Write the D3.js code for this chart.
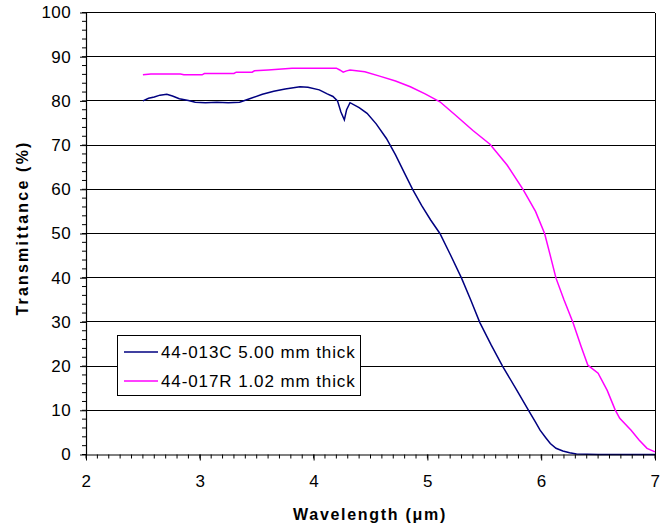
<!DOCTYPE html>
<html>
<head>
<meta charset="utf-8">
<script src="https://cdn.jsdelivr.net/npm/d3@7"></script>
<style>
  body { margin: 0; background: #fff; }
  text { font-family: Arial, "Liberation Sans", sans-serif; fill: #000; }
</style>
</head>
<body>
<div id="chart"></div>
<script>
// values
var navyWl = [2.5, 2.55, 2.6, 2.65, 2.71, 2.76, 2.82, 2.9, 2.96, 3.05, 3.15, 3.25, 3.35, 3.45, 3.55, 3.65, 3.75, 3.88, 3.95, 4.05, 4.12, 4.17, 4.21, 4.24, 4.27, 4.29, 4.32, 4.4, 4.47, 4.55, 4.64, 4.72, 4.8, 4.87, 4.95, 5.03, 5.11, 5.2, 5.3, 5.38, 5.46, 5.56, 5.66, 5.78, 5.89, 5.95, 5.99, 6.04, 6.08, 6.13, 6.19, 6.25, 6.31, 6.5, 7.0];
var navyT = [80.0, 80.6, 80.9, 81.3, 81.5, 81.1, 80.5, 80.1, 79.7, 79.6, 79.7, 79.6, 79.7, 80.6, 81.5, 82.2, 82.7, 83.2, 83.1, 82.5, 81.6, 81.0, 80.0, 77.5, 75.7, 78.0, 79.6, 78.5, 77.2, 74.8, 71.5, 67.8, 63.6, 60.0, 56.3, 53.0, 50.0, 45.3, 39.9, 35.0, 29.9, 24.8, 20.0, 14.8, 9.9, 7.3, 5.5, 3.8, 2.5, 1.4, 0.8, 0.4, 0.1, 0.0, 0.0];

var pinkWl = [2.5, 2.57, 2.83, 2.86, 3.02, 3.04, 3.3, 3.32, 3.46, 3.48, 3.6, 3.81, 4.2, 4.23, 4.26, 4.29, 4.32, 4.45, 4.58, 4.72, 4.85, 4.98, 5.11, 5.25, 5.4, 5.55, 5.7, 5.84, 5.95, 6.03, 6.08, 6.13, 6.2, 6.28, 6.35, 6.41, 6.5, 6.58, 6.65, 6.69, 6.79, 6.86, 6.93, 7.0];
var pinkT = [85.9, 86.1, 86.1, 85.9, 85.9, 86.2, 86.2, 86.5, 86.5, 86.8, 87.0, 87.4, 87.4, 87.0, 86.5, 86.8, 87.0, 86.6, 85.6, 84.5, 83.2, 81.6, 79.8, 76.7, 73.3, 70.2, 65.5, 60.0, 55.0, 50.0, 45.0, 39.9, 35.0, 29.8, 24.5, 20.2, 18.4, 14.5, 10.1, 8.2, 5.5, 3.3, 1.4, 0.6];

var seriesNames = ["44-013C 5.00 mm thick", "44-017R 1.02 mm thick"];
var seriesColors = ["#000080", "#ff00ff"];
var xTicks = [2, 3, 4, 5, 6, 7];
var yTicks = [0, 10, 20, 30, 40, 50, 60, 70, 80, 90, 100];

const W = 661, H = 529;
const svg = d3.select("#chart").append("svg")
  .attr("width", W).attr("height", H);

const x = d3.scaleLinear().domain([2, 7]).range([86, 655]);
const y = d3.scaleLinear().domain([0, 100]).range([454.5, 12.5]);

// gridlines
svg.append("g")
  .selectAll("line")
  .data(yTicks.filter(d => d > 0))
  .join("line")
    .attr("x1", x(2)).attr("x2", x(7))
    .attr("y1", d => y(d)).attr("y2", d => y(d))
    .attr("stroke", "#000").attr("stroke-width", 1)
    .attr("shape-rendering", "crispEdges");

// right border
svg.append("line")
  .attr("x1", x(7)).attr("x2", x(7)).attr("y1", y(100)).attr("y2", y(0))
  .attr("stroke", "#000").attr("shape-rendering", "crispEdges");

// series lines
const line = d3.line().x(d => x(d[0])).y(d => y(d[1]));
const series = [d3.zip(navyWl, navyT), d3.zip(pinkWl, pinkT)];
svg.append("g")
  .selectAll("path")
  .data(series)
  .join("path")
    .attr("d", line)
    .attr("fill", "none")
    .attr("stroke", (d, i) => seriesColors[i])
    .attr("stroke-width", 1.5);

// y axis
const yAxis = svg.append("g")
  .attr("transform", `translate(${x(2)},0)`)
  .call(d3.axisLeft(y).tickValues(yTicks).tickFormat(d3.format("d"))
    .tickSize(6).tickPadding(9).tickSizeOuter(0));
yAxis.append("g").selectAll("line")
  .data(d3.range(0, 101, 2))
  .join("line")
    .attr("x1", -4).attr("x2", 0)
    .attr("y1", d => y(d)).attr("y2", d => y(d))
    .attr("stroke", "#000");

// x axis
const xAxis = svg.append("g")
  .attr("transform", `translate(0,${y(0)})`)
  .call(d3.axisBottom(x).tickValues(xTicks).tickFormat(d3.format("d"))
    .tickSize(6).tickPadding(14).tickSizeOuter(0));
xAxis.append("g").selectAll("line")
  .data(d3.range(20, 71).map(d => d / 10))
  .join("line")
    .attr("x1", d => x(d)).attr("x2", d => x(d))
    .attr("y1", 0).attr("y2", 4)
    .attr("stroke", "#000");

svg.selectAll(".domain").attr("stroke", "#000").attr("stroke-width", 1.2);
svg.selectAll(".tick line").attr("stroke", "#000");
svg.selectAll(".tick text")
  .style("font-family", "Arial, 'Liberation Sans', sans-serif")
  .style("font-size", "17px")
  .style("letter-spacing", "0.4px");

// axis titles
svg.append("text")
  .attr("x", 370).attr("y", 520)
  .attr("text-anchor", "middle")
  .style("font-size", "16px").style("font-weight", "bold")
  .style("letter-spacing", "1.7px")
  .text("Wavelength (μm)");

svg.append("text")
  .attr("transform", "translate(28,228) rotate(-90)")
  .attr("text-anchor", "middle")
  .style("font-size", "16px").style("font-weight", "bold")
  .style("letter-spacing", "2.2px")
  .text("Transmittance (%)");

// legend
const legend = svg.append("g");
legend.append("rect")
  .attr("x", 117.5).attr("y", 335.5).attr("width", 243).attr("height", 60)
  .attr("fill", "#fff").attr("stroke", "#000");
const item = legend.selectAll("g.item")
  .data(seriesNames)
  .join("g").attr("class", "item")
  .attr("transform", (d, i) => `translate(0,${352 + i * 29})`);
item.append("line")
  .attr("x1", 124).attr("x2", 158).attr("y1", 0).attr("y2", 0)
  .attr("stroke", (d, i) => seriesColors[i]).attr("stroke-width", 1.5);
item.append("text")
  .attr("x", 161).attr("y", 6)
  .style("font-size", "17px")
  .style("letter-spacing", "0.9px")
  .text(d => d);
</script>
</body>
</html>
